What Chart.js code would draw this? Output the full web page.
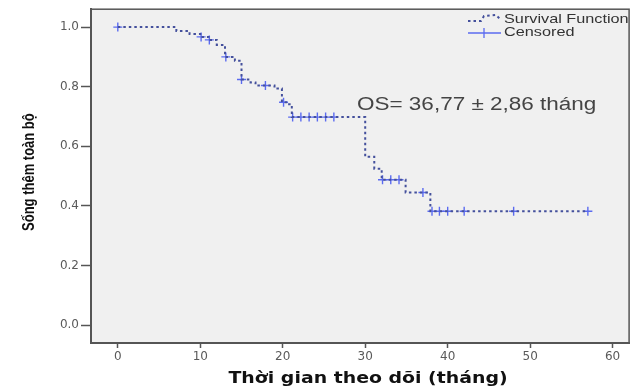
<!DOCTYPE html>
<html>
<head>
<meta charset="utf-8">
<script src="https://cdn.jsdelivr.net/npm/chart.js@4/dist/chart.umd.min.js"></script>
<style>
  body { margin: 0; background: #fff; }
  #chart { display: block; }
</style>
</head>
<body>
<canvas id="chart" width="635" height="388"></canvas>
<script>
// Kaplan-Meier steps (time in months, survival after the drop)
const eventTimes = [0, 7.1, 8.7, 10.0, 11.0, 12.0, 13.0, 14.2, 15.0, 16.1, 16.7, 19.0, 19.9, 20.6, 21.1, 30.0, 31.1, 32.0, 34.9, 37.9, 57.0];
const survival = [1.0, 0.987, 0.977, 0.967, 0.957, 0.940, 0.900, 0.887, 0.824, 0.814, 0.804, 0.794, 0.748, 0.741, 0.698, 0.565, 0.525, 0.488, 0.445, 0.382, 0.382];

const censoredTimes = [0, 10.1, 11.1, 13.1, 15.0, 17.9, 20.1, 21.2, 22.2, 23.2, 24.2, 25.2, 26.2, 32.1, 33.1, 34.1, 37.0, 38.1, 39.0, 40.0, 42.0, 48.0, 57.0];
const censoredValues = [1.0, 0.967, 0.957, 0.900, 0.824, 0.804, 0.748, 0.698, 0.698, 0.698, 0.698, 0.698, 0.698, 0.488, 0.488, 0.488, 0.445, 0.382, 0.382, 0.382, 0.382, 0.382, 0.382];

const xTicks = [0, 10, 20, 30, 40, 50, 60];
const yTicks = [0.0, 0.2, 0.4, 0.6, 0.8, 1.0];

const seriesLabels = ['Survival Function', 'Censored'];
const annotationText = 'OS= 36,77 \u00b1 2,86 th\u00e1ng';
const xTitle = 'Th\u1eddi gian theo d\u00f5i (th\u00e1ng)';
const yTitle = 'S\u1ed1ng th\u00eam to\u00e0n b\u1ed9';

const lineColor = '#44509c';
const crossColor = '#5b6bf0';
const axisColor = '#555555';

const kmPoints = eventTimes.map((t, i) => ({ x: t, y: survival[i] }));
const censorPoints = censoredTimes.map((t, i) => ({ x: t, y: censoredValues[i] }));

// the reference picture is widened horizontally, so text is drawn stretched
function wideText(ctx, text, x, y, font, color, sx, sy, rot, align) {
    ctx.save();
    ctx.font = font;
    ctx.fillStyle = color;
    ctx.textBaseline = 'middle';
    ctx.textAlign = align || 'left';
    ctx.translate(x, y);
    if (rot) ctx.rotate(rot);
    ctx.scale(sx, sy);
    ctx.fillText(text, 0, 0);
    ctx.restore();
}

const plotDecor = {
    id: 'plotDecor',
    beforeDraw(chart) {
        const { ctx, chartArea: a } = chart;
        ctx.save();
        ctx.fillStyle = '#ffffff';
        ctx.fillRect(0, 0, chart.width, chart.height);
        ctx.fillStyle = '#f0f0f0';
        ctx.fillRect(a.left, a.top, a.right - a.left, a.bottom - a.top);
        ctx.strokeStyle = axisColor;
        ctx.lineWidth = 1.5;
        ctx.strokeRect(a.left, a.top, a.right - a.left, a.bottom - a.top);
        ctx.restore();
    },
    afterDraw(chart) {
        const { ctx, chartArea: a } = chart;
        const xs = chart.scales.x;
        const ys = chart.scales.y;

        wideText(ctx, xTitle, (a.left + a.right) / 2 + 8, 379,
            'bold 15px "DejaVu Sans", sans-serif', '#111111', 1.26, 1, 0, 'center');
        wideText(ctx, yTitle, 30, (a.top + a.bottom) / 2 - 4,
            'bold 13px "Liberation Sans", Arial, sans-serif', '#111111', 1, 1.2, -Math.PI / 2, 'center');

        wideText(ctx, annotationText, xs.getPixelForValue(29.0), ys.getPixelForValue(0.738),
            '18px "Liberation Sans", Arial, sans-serif', '#444444', 1.25, 1);

        // legend
        ctx.save();
        ctx.strokeStyle = lineColor;
        ctx.lineWidth = 2;
        ctx.setLineDash([2.5, 3]);
        ctx.beginPath();
        ctx.moveTo(468, 21);
        ctx.lineTo(481, 21);
        ctx.lineTo(484, 16);
        ctx.lineTo(496, 15);
        ctx.lineTo(501, 20);
        ctx.stroke();
        ctx.setLineDash([]);
        ctx.strokeStyle = crossColor;
        ctx.lineWidth = 1.3;
        ctx.beginPath();
        ctx.moveTo(468, 33);
        ctx.lineTo(501, 33);
        ctx.moveTo(484, 28);
        ctx.lineTo(484, 38);
        ctx.stroke();
        ctx.restore();
        wideText(ctx, seriesLabels[0], 504, 19, '13px "Liberation Sans", Arial, sans-serif', '#333333', 1.25, 1);
        wideText(ctx, seriesLabels[1], 504, 32, '13px "Liberation Sans", Arial, sans-serif', '#333333', 1.25, 1);
    }
};

const config = {
    type: 'line',
    data: {
        datasets: [{
            label: seriesLabels[0],
            data: kmPoints,
            stepped: 'before',
            borderColor: lineColor,
            borderWidth: 2,
            borderDash: [2.5, 3],
            pointRadius: 0,
            fill: false
        }, {
            label: seriesLabels[1],
            data: censorPoints,
            showLine: false,
            pointStyle: 'cross',
            pointRadius: 4.5,
            pointBorderWidth: 1.4,
            pointBorderColor: crossColor,
            pointBackgroundColor: crossColor,
            borderColor: crossColor
        }]
    },
    options: {
        responsive: false,
        animation: false,
        devicePixelRatio: 1,
        layout: { padding: { top: 7, right: 1, left: 0, bottom: 0 } },
        plugins: {
            legend: { display: false },
            tooltip: { enabled: false }
        },
        scales: {
            x: {
                type: 'linear',
                min: -3.25,
                max: 62,
                afterBuildTicks: scale => { scale.ticks = xTicks.map(v => ({ value: v })); },
                afterFit: scale => { scale.height = 45; },
                grid: { drawOnChartArea: false, tickLength: 5, color: axisColor, tickWidth: 1.5 },
                border: { display: true, color: axisColor, width: 2 },
                ticks: {
                    autoSkip: false,
                    maxRotation: 0,
                    padding: 2,
                    color: '#5a5a5a',
                    font: { family: '"DejaVu Sans", sans-serif', size: 12 },
                    callback: v => String(v)
                }
            },
            y: {
                min: -0.06,
                max: 1.06,
                afterBuildTicks: scale => { scale.ticks = yTicks.map(v => ({ value: v })); },
                afterFit: scale => { scale.width = 91; },
                grid: { drawOnChartArea: false, tickLength: 10, color: axisColor, tickWidth: 1.5 },
                border: { display: true, color: axisColor, width: 2 },
                ticks: {
                    padding: 2,
                    color: '#5a5a5a',
                    font: { family: '"DejaVu Sans", sans-serif', size: 12 },
                    callback: v => Number(v).toFixed(1)
                }
            }
        }
    },
    plugins: [plotDecor]
};

let myChart = new Chart(document.getElementById('chart'), config);
</script>
</body>
</html>
